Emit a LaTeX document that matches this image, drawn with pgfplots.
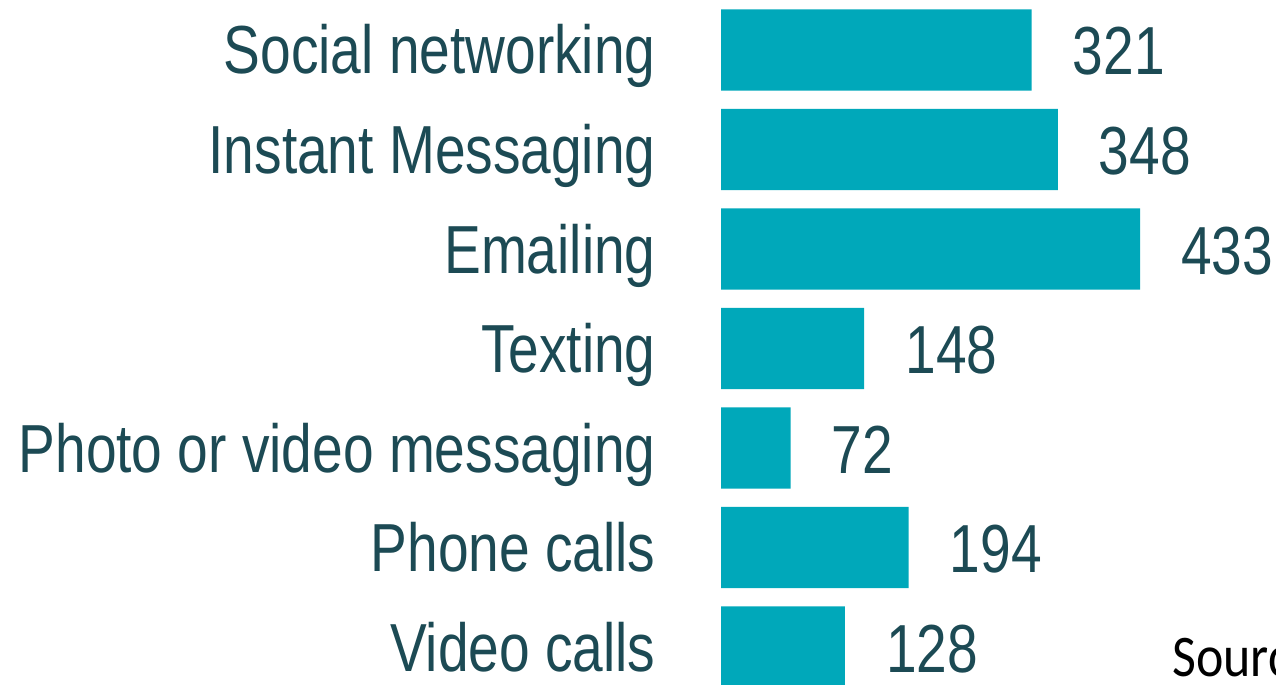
\documentclass[border=0pt]{standalone}
\usepackage{pgfplots}
\pgfplotsset{compat=1.18}
\usepackage{fontspec}
\setmainfont{Liberation Sans}
\newfontfamily\labelfont{Liberation Sans}[FakeStretch=0.81]
\newfontfamily\srcfont{Carlito}[FakeStretch=0.88]
\definecolor{barcol}{RGB}{0,168,186}
\definecolor{txtcol}{RGB}{28,74,84}
\begin{document}
\begin{tikzpicture}
\useasboundingbox (0,0) rectangle (1276bp,685bp);
\clip (0,0) rectangle (1276bp,685bp);
\begin{axis}[
  at={(721bp,684.75bp)}, anchor=north west,
  scale only axis,
  width=483.85bp, height=696.5bp,
  xmin=0, xmax=500,
  ymin=-0.5, ymax=6.5,
  y dir=reverse,
  xbar, bar width=81bp,
  axis line style={draw=none},
  tick style={draw=none},
  xtick=\empty,
  ytick={0,1,2,3,4,5,6},
  yticklabels={Social networking,Instant Messaging,Emailing,Texting,Photo or video messaging,Phone calls,Video calls},
  yticklabel style={anchor=base east, inner sep=0pt, xshift=-61bp, yshift=-24bp,
    font=\labelfont\fontsize{68bp}{80bp}\selectfont, text=txtcol},
  /pgf/number format/assume math mode=true,
  nodes near coords,
  nodes near coords align={horizontal},
  every node near coord/.append style={anchor=base west, inner sep=0pt, xshift=41bp, yshift=-25bp,
    font=\labelfont\fontsize{68bp}{80bp}\selectfont, text=txtcol},
  clip=false,
]
\addplot[fill=barcol, draw=none] coordinates {
  (321,0) (348,1) (433,2) (148,3) (72,4) (194,5) (128,6)
};
\end{axis}
\node[anchor=base west, inner sep=0pt, font=\srcfont\fontsize{59bp}{70bp}\selectfont, text=black] at (1172bp,9bp) {Sourc};
\end{tikzpicture}
\end{document}
